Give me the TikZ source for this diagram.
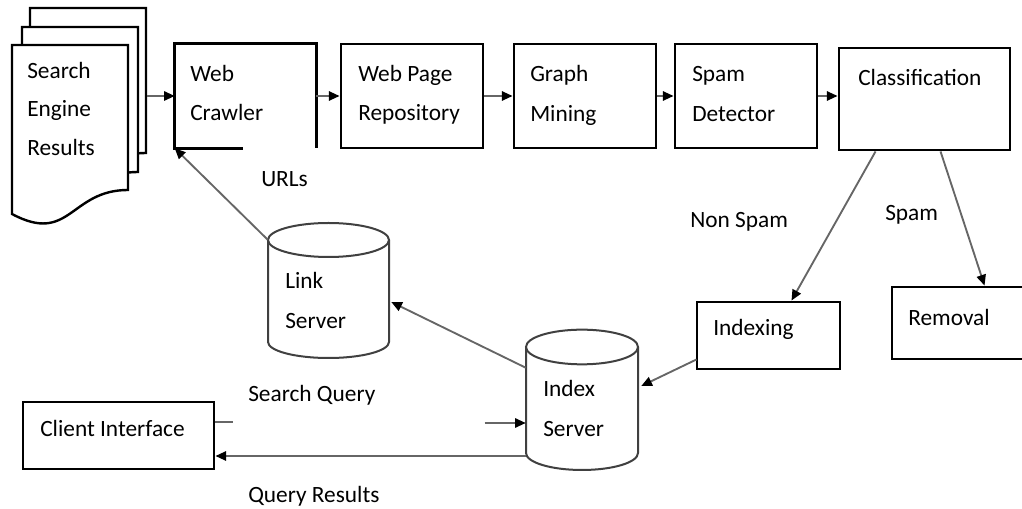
\documentclass[tikz,border=0pt]{standalone}
\usepackage{fontspec}
\setmainfont{Carlito}
\usetikzlibrary{fit,calc,arrows.meta}
\begin{document}
\begin{tikzpicture}[x=0.75pt,y=-0.75pt,
  box/.style={draw=black,line width=2.2pt,inner sep=0pt,fill=white},
  hidden/.style={inner sep=0pt},
  boxline/.style={draw=black,line width=2.2pt},
  page/.style={draw=black,line width=1.8pt,fill=white,line join=miter},
  cyl/.style={draw=black!75,line width=1.5pt,fill=white},
  txt/.style={anchor=base west,inner sep=0pt,font=\fontsize{17.5}{21}\selectfont},
  conn/.style={draw=black!60,line width=1.4pt,-{Triangle[length=8pt,width=7pt,color=black]}},
  plain/.style={draw=black!60,line width=1.4pt}]
\useasboundingbox (0,0) rectangle (1022,509);

% Search engine results: stacked documents
\foreach \x/\y in {30/8,22/27,12/45}{
  \draw[page] (\x,\y) -- ++(116,0) -- ++(0,145)
    .. controls ($(\x,\y)+(58,145)$) and ($(\x,\y)+(58,200)$) .. ($(\x,\y)+(0,169)$) -- cycle;
}
\coordinate (ser) at (147,96);
\node[txt] (t1) at (27,79) {Search};
\node[txt] (t2) at (27,117) {Engine};
\node[txt] (t3) at (27,156) {Results};

% top row boxes
\node[hidden, fit={(175,44)(316,148)}] (wc) {};
\draw[boxline] ($(wc.south west)+(68,0)$) -- (wc.south west) -- (wc.north west) -- (wc.north east) -- (wc.south east);
\node[txt] (wct1) at (190,82) {Web};
\node[txt] (wct2) at (190,121) {Crawler};

\node[box, fit={(341,44)(483,148)}] (wpr) {};
\node[txt] (wprt1) at (358,82) {Web Page};
\node[txt] (wprt2) at (358,121) {Repository};

\node[box, fit={(514,44)(656,148)}] (gm) {};
\node[txt] (gmt1) at (530,82) {Graph};
\node[txt] (gmt2) at (530,122) {Mining};

\node[box, fit={(675,44)(817,148)}] (sd) {};
\node[txt] (sdt1) at (692,82) {Spam};
\node[txt] (sdt2) at (692,122) {Detector};

\node[box, fit={(839,48)(1010,150)}] (cl) {};
\node[txt] (clt) at (858,86) {Classification};

% lower boxes
\node[box, fit={(697,302)(840,369)}] (idx) {};
\node[txt] (idxt) at (713,336) {Indexing};

\node[box, fit={(892,287)(1030,359)}] (rem) {};
\node[txt] (remt) at (908,326) {Removal};

\node[box, fit={(23,402)(214,469)}] (ci) {};
\node[txt] (cit) at (40,437) {Client Interface};

% cylinders
\node[hidden, fit={(268,223)(389,358)}] (ls) {};
\draw[cyl] (268,240) -- (268,342) arc[start angle=180,end angle=360,x radius=45.375pt,y radius=12pt] -- (389,240);
\draw[cyl] (328.5,240) ellipse [x radius=45.375pt,y radius=12.75pt];
\node[txt] (lst1) at (285,289) {Link};
\node[txt] (lst2) at (285,329) {Server};

\node[hidden, fit={(526,330)(638,470)}] (is) {};
\draw[cyl] (526,347) -- (526,453) arc[start angle=180,end angle=360,x radius=42pt,y radius=12.75pt] -- (638,347);
\draw[cyl] (582,347) ellipse [x radius=42pt,y radius=13pt];
\node[txt] (ist1) at (543,397) {Index};
\node[txt] (ist2) at (543,437) {Server};

% connectors
\draw[conn] (ser |- wc.west) -- (wc.west);
\draw[conn] (wc.east) -- (wpr.west);
\draw[conn] (wpr.east) -- (gm.west);
\draw[conn] (gm.east) -- (sd.west);
\draw[conn] (sd.east) -- (sd.east -| cl.west);
\draw[conn] ($(ls.north west)+(0,17)$) -- (wc.south west);
\draw[conn] ($(is.north west)+(0,38)$) -- ($(ls.east)+(2,11.5)$);
\draw[conn] ($(cl.south west)+(38,0)$) -- ($(idx.north west)+(96,0)$);
\draw[conn] ($(cl.south west)+(103,0)$) -- ($(rem.north west)+(94,0)$);
\draw[conn] ($(idx.south west)+(1,-11)$) -- ($(is.east)+(3,-14)$);
\draw[plain] ($(ci.east)+(0,-13.5)$) -- ++(18,0);
\draw[conn] ($(is.west)+(-41,23)$) -- ($(is.west)+(0,23)$);
\draw[conn] ($(is.west)+(0,56)$) -- ($(ci.east)+(0,20.5)$);

% labels
\node[txt] (urls) at (261,187) {URLs};
\node[txt] (nons) at (690,228) {Non Spam};
\node[txt] (spam) at (885,221) {Spam};
\node[txt] (sq) at (248,402) {Search Query};
\node[txt] (qr) at (248,503) {Query Results};
\end{tikzpicture}
\end{document}
